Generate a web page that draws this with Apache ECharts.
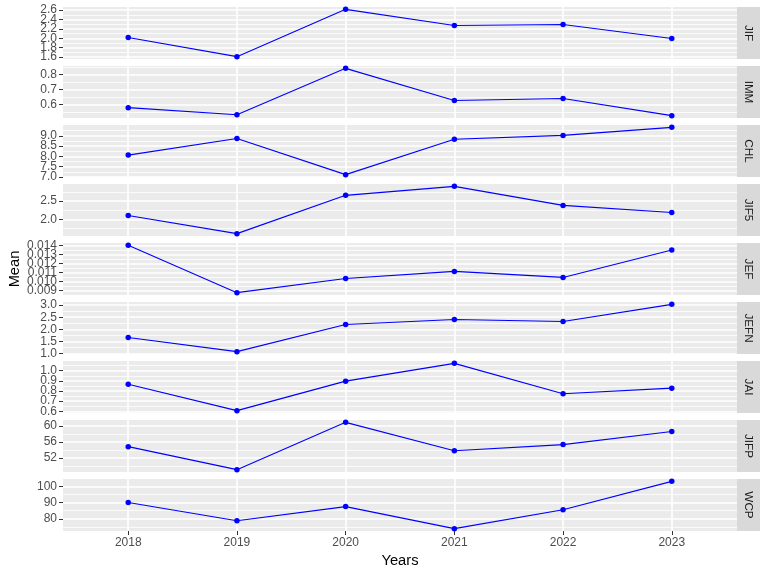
<!DOCTYPE html>
<html><head><meta charset="utf-8">
<script src="https://cdn.jsdelivr.net/npm/echarts@6/dist/echarts.min.js"></script>
<style>html,body{margin:0;padding:0;background:#fff}#c{width:768px;height:576px}</style>
</head><body><div id="c"></div>
<script>
const years = [2018, 2019, 2020, 2021, 2022, 2023];
const panels = ['JIF', 'IMM', 'CHL', 'JIF5', 'JEF', 'JEFN', 'JAI', 'JIFP', 'WCP'];

const JIF  = [2.015, 1.609, 2.615, 2.272, 2.294, 1.994];
const IMM  = [0.580, 0.533, 0.840, 0.627, 0.640, 0.527];
const CHL  = [8.06, 8.87, 7.11, 8.83, 9.02, 9.41];
const JIF5 = [2.109, 1.617, 2.656, 2.900, 2.383, 2.191];
const JEF  = [0.01400, 0.00875, 0.01032, 0.01111, 0.01044, 0.01348];
const JEFN = [1.664, 1.084, 2.200, 2.408, 2.326, 3.030];
const JAI  = [0.867, 0.607, 0.897, 1.072, 0.773, 0.828];
const JIFP = [54.85, 49.17, 60.85, 53.85, 55.35, 58.60];
const WCP  = [90.0, 78.75, 87.5, 73.9, 85.6, 103.1];

const ticksJIF  = ['1.6', '1.8', '2.0', '2.2', '2.4', '2.6'];
const ticksIMM  = ['0.6', '0.7', '0.8'];
const ticksCHL  = ['7.0', '7.5', '8.0', '8.5', '9.0'];
const ticksJIF5 = ['2.0', '2.5'];
const ticksJEF  = ['0.009', '0.010', '0.011', '0.012', '0.013', '0.014'];
const ticksJEFN = ['1.0', '1.5', '2.0', '2.5', '3.0'];
const ticksJAI  = ['0.6', '0.7', '0.8', '0.9', '1.0'];
const ticksJIFP = ['52', '56', '60'];
const ticksWCP  = ['80', '90', '100'];

const seriesValues = [JIF, IMM, CHL, JIF5, JEF, JEFN, JAI, JIFP, WCP];
const tickLabels = [ticksJIF, ticksIMM, ticksCHL, ticksJIF5, ticksJEF, ticksJEFN, ticksJAI, ticksJIFP, ticksWCP];

// layout
const LEFT = 63, RIGHT = 31, TOP0 = 7, PH = 52, STEP = 59, STRIP_W = 23;
const FONT = "'Liberation Sans', Arial, sans-serif";
const AXIS_PER_GRID = 3;

const grids = [], xAxes = [], yAxes = [], series = [], graphics = [];
panels.forEach((name, i) => {
  const vals = seriesValues[i];
  const mn = Math.min(...vals), mx = Math.max(...vals), r = mx - mn;
  const lo = mn - 0.05 * r, hi = mx + 0.05 * r;
  const labels = tickLabels[i];
  const tv = labels.map(Number);
  const st = tv[1] - tv[0];
  const minors = [];
  for (let k = -1; k < tv.length; k++) {
    const m = tv[0] + (k + 0.5) * st;
    if (m > lo && m < hi) minors.push(m);
  }
  const majors = tv.filter(t => t >= lo - 1e-12 && t <= hi + 1e-12);
  const majEven = majors.filter((t, k) => k % 2 === 0);
  const majOdd = majors.filter((t, k) => k % 2 === 1);
  const fmt = v => {
    const j = tv.findIndex(t => Math.abs(t - v) < 1e-9);
    return j >= 0 ? labels[j] : '';
  };
  const top = TOP0 + i * STEP;
  grids.push({left: LEFT, right: RIGHT, top: top, height: PH, show: true,
    backgroundColor: '#EBEBEB', borderWidth: 0});
  const bottom = i === panels.length - 1;
  xAxes.push({
    type: 'value', gridIndex: i, min: 2017.4, max: 2023.6,
    axisLine: {show: false},
    axisTick: {show: bottom, length: 4, customValues: years, lineStyle: {color: '#333333', width: 1}},
    axisLabel: {show: bottom, customValues: years, color: '#4D4D4D', fontSize: 12,
      fontFamily: FONT, margin: 6, hideOverlap: false, showMinLabel: true, showMaxLabel: true,
      formatter: v => String(v)},
    splitLine: {show: true, lineStyle: {color: '#FFFFFF', width: 1.6}}
  });
  // minor grid lines
  yAxes.push({
    type: 'value', gridIndex: i, min: lo, max: hi, position: 'left',
    axisLine: {show: false},
    axisTick: {show: false, customValues: minors},
    axisLabel: {show: false},
    splitLine: {show: true, lineStyle: {color: '#FFFFFF', width: 0.8}}
  });
  // major grid lines, ticks, even labels
  yAxes.push({
    type: 'value', gridIndex: i, min: lo, max: hi, position: 'left',
    axisLine: {show: false},
    axisTick: {show: true, length: 4, customValues: majors, lineStyle: {color: '#333333', width: 1}},
    axisLabel: {show: true, customValues: majEven, color: '#4D4D4D', fontSize: 12,
      fontFamily: FONT, margin: 6, hideOverlap: false, showMinLabel: true, showMaxLabel: true,
      formatter: fmt},
    splitLine: {show: true, lineStyle: {color: '#FFFFFF', width: 1.6}}
  });
  // odd labels
  yAxes.push({
    type: 'value', gridIndex: i, min: lo, max: hi, position: 'left',
    axisLine: {show: false},
    axisTick: {show: false, length: 4, customValues: majOdd.length ? majOdd : [lo - 1]},
    axisLabel: {show: majOdd.length > 0, customValues: majOdd.length ? majOdd : [lo - 1], color: '#4D4D4D', fontSize: 12,
      fontFamily: FONT, margin: 6, hideOverlap: false, showMinLabel: true, showMaxLabel: true,
      formatter: fmt},
    splitLine: {show: false}
  });
  series.push({
    type: 'line', xAxisIndex: i, yAxisIndex: AXIS_PER_GRID * i + 1,
    data: years.map((y, k) => [y, vals[k]]),
    symbol: 'circle', symbolSize: 5.5, showSymbol: true,
    lineStyle: {color: '#0000FF', width: 1.1},
    itemStyle: {color: '#0000FF'},
    animation: false, silent: true
  });
  graphics.push({type: 'rect', shape: {x: 768 - RIGHT, y: top, width: STRIP_W, height: PH},
    style: {fill: '#D9D9D9'}});
  graphics.push({type: 'text', x: 768 - RIGHT + STRIP_W / 2, y: top + PH / 2, rotation: -Math.PI / 2,
    style: {text: name, fill: '#1A1A1A', fontSize: 11.7, fontFamily: FONT,
      textAlign: 'center', textVerticalAlign: 'middle'}});
});

graphics.push({type: 'text', x: 15, y: TOP0 + ((panels.length - 1) * STEP + PH) / 2, rotation: Math.PI / 2,
  style: {text: 'Mean', fill: '#000000', fontSize: 14.7, fontFamily: FONT,
    textAlign: 'center', textVerticalAlign: 'middle'}});
graphics.push({type: 'text', x: LEFT + (768 - LEFT - RIGHT) / 2, y: 561,
  style: {text: 'Years', fill: '#000000', fontSize: 14.7, fontFamily: FONT,
    textAlign: 'center', textVerticalAlign: 'middle'}});

const chart = echarts.init(document.getElementById('c'), null, {renderer: 'canvas'});
chart.setOption({
  animation: false,
  backgroundColor: '#FFFFFF',
  grid: grids, xAxis: xAxes, yAxis: yAxes, series: series,
  graphic: graphics
});
</script></body></html>
